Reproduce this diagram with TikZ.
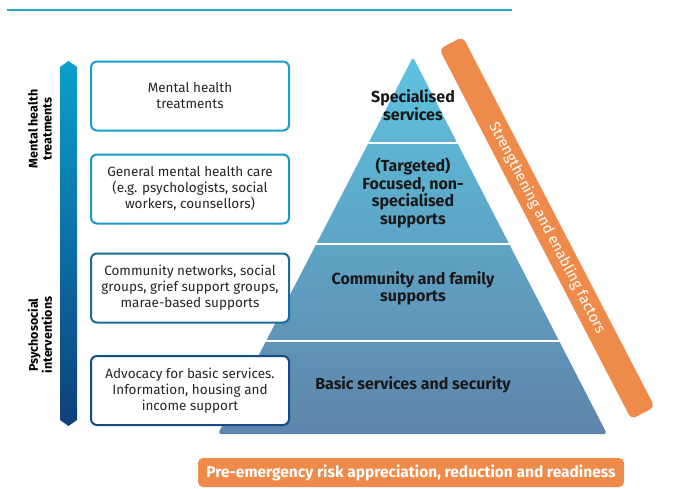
\documentclass[tikz,border=0pt]{standalone}
\usepackage{fontspec}
\setmainfont{Fira Sans}
\definecolor{topline}{HTML}{1FAAD0}
\definecolor{barTop}{HTML}{0AA0CC}
\definecolor{barBot}{HTML}{0E3F7B}
\definecolor{bA}{HTML}{1C9FD0}
\definecolor{bB}{HTML}{1A98C8}
\definecolor{bC}{HTML}{1B6A99}
\definecolor{bD}{HTML}{174B84}
\definecolor{pyrTop}{HTML}{5EC3DF}
\definecolor{pyrBot}{HTML}{5F84AB}
\definecolor{orng}{HTML}{EE8B4A}
\tikzset{
  infobox/.style={draw, line width=2pt, rounded corners=6pt, fill=white,
    minimum width=198pt, minimum height=69pt, align=center, inner sep=2pt,
    font=\fontsize{13.5}{16}\selectfont, text=black!85},
  pyrtext/.style={align=center, font=\bfseries\fontsize{16}{17.5}\selectfont, text=black!90},
  sidelabel/.style={rotate=90, align=center, font=\bfseries\fontsize{12.5}{14}\selectfont},
  orangebar/.style={fill=orng, rounded corners=5pt, text=white, inner sep=0pt}
}
\begin{document}
\begin{tikzpicture}[x=1pt,y=-1pt]
\useasboundingbox (0,0) rectangle (688,488);
% top rule
\draw[topline, line width=2pt] (7,9.5) -- (512,9.5);
% left gradient arrow bar
\shade[top color=barTop, bottom color=barBot]
  (68.5,61) -- (77,67) -- (77,420) -- (68.5,426) -- (60,420) -- (60,67) -- cycle;
\node[sidelabel] (lblA) at (40,129) {Mental health\\treatments};
\node[sidelabel] (lblB) at (40,335) {Psychosocial\\interventions};
% pyramid
\shade[top color=pyrTop, bottom color=pyrBot, rounded corners=3pt]
  (413,57) -- (607,434) -- (218,434) -- cycle;
\begin{scope}
  \clip (413,57) -- (607,434) -- (218,434) -- cycle;
  \draw[white, line width=2.5pt] (200,143) -- (630,143);
  \draw[white, line width=2.5pt] (200,244) -- (630,244);
  \draw[white, line width=2.5pt] (200,341) -- (630,341);
\end{scope}
\node[pyrtext] (pA) at (413,105) {Specialised\\services};
\node[pyrtext] (pB) at (413,193) {(Targeted)\\Focused, non-\\specialised\\supports};
\node[pyrtext] (pC) at (413,288.5) {Community and family\\supports};
\node[pyrtext] (pD) at (413,385) {Basic services and security};
% boxes
\node[infobox, draw=bA] (boxA) at (190,96) {Mental health\\treatments};
\node[infobox, draw=bB] (boxB) at (190,189) {General mental health care\\(e.g. psychologists, social\\workers, counsellors)};
\node[infobox, draw=bC] (boxC) at (190,288) {Community networks, social\\groups, grief support groups,\\marae-based supports};
\node[infobox, draw=bD] (boxD) at (190,390.5) {Advocacy for basic services.\\Information, housing and\\income support};
% slanted orange bar
\node[orangebar, minimum width=417pt, minimum height=26.5pt, rotate=-62.6,
      font=\fontsize{14.8}{16}\selectfont] (side) at (547,228) {Strengthening and enabling factors};
% bottom orange bar
\node[orangebar, minimum width=426pt, minimum height=29pt,
      font=\bfseries\fontsize{15.5}{17}\selectfont] (bottom) at (411,472.5) {Pre-emergency risk appreciation, reduction and readiness};
\end{tikzpicture}
\end{document}
